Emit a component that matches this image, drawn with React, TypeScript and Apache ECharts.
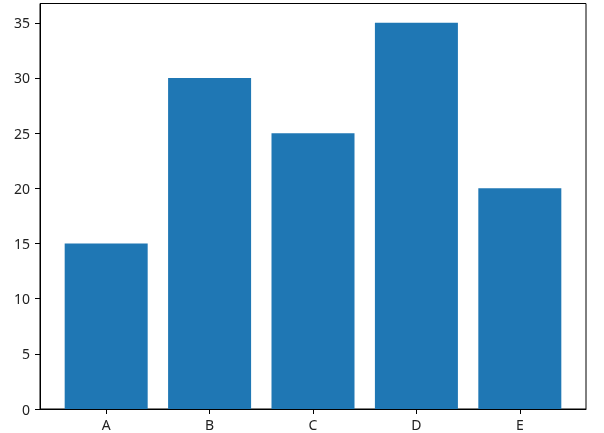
import React, { useEffect, useRef } from "react";
import * as echarts from "echarts";

const categories = ["A", "B", "C", "D", "E"];
const values = [15, 30, 25, 35, 20];
const yTicks = [0, 5, 10, 15, 20, 25, 30, 35];
const xTicks = [0, 1, 2, 3, 4];

export default function App() {
  const ref = useRef<HTMLDivElement>(null);
  useEffect(() => {
    const chart = echarts.init(ref.current!, null, { renderer: "svg" });
    const font = "Noto Sans";
    chart.setOption({
      animation: false,
      grid: {
        left: 40,
        top: 3.5,
        right: 18,
        bottom: 24,
        show: true,
        borderColor: "#000",
        borderWidth: 1,
        backgroundColor: "transparent",
      },
      xAxis: {
        type: "value",
        min: -0.64,
        max: 4.64,
        splitLine: { show: false },
        axisLine: { show: true, onZero: false, lineStyle: { color: "#000", width: 1 } },
        axisTick: {
          show: true,
          length: 5,
          lineStyle: { color: "#000" },
          customValues: xTicks,
        },
        axisLabel: {
          customValues: xTicks,
          formatter: (v: number) => categories[Math.round(v)] ?? "",
          color: "#222",
          fontFamily: font,
          fontSize: 14,
          margin: 8,
        },
      },
      yAxis: {
        type: "value",
        min: 0,
        max: 36.75,
        splitLine: { show: false },
        axisLine: { show: true, onZero: false, lineStyle: { color: "#000", width: 1 } },
        axisTick: {
          show: true,
          length: 5,
          lineStyle: { color: "#000" },
          customValues: yTicks,
        },
        axisLabel: {
          customValues: yTicks,
          color: "#222",
          fontFamily: font,
          fontSize: 14,
          margin: 10,
        },
      },
      series: [
        {
          type: "bar",
          data: values.map((v, i) => [i, v]),
          barWidth: 83,
          itemStyle: { color: "#1f77b4" },
        },
      ],
    });
    return () => chart.dispose();
  }, []);
  return (
    <div
      ref={ref}
      style={{ position: "fixed", left: 0, top: 0, width: 604, height: 433 }}
    />
  );
}
